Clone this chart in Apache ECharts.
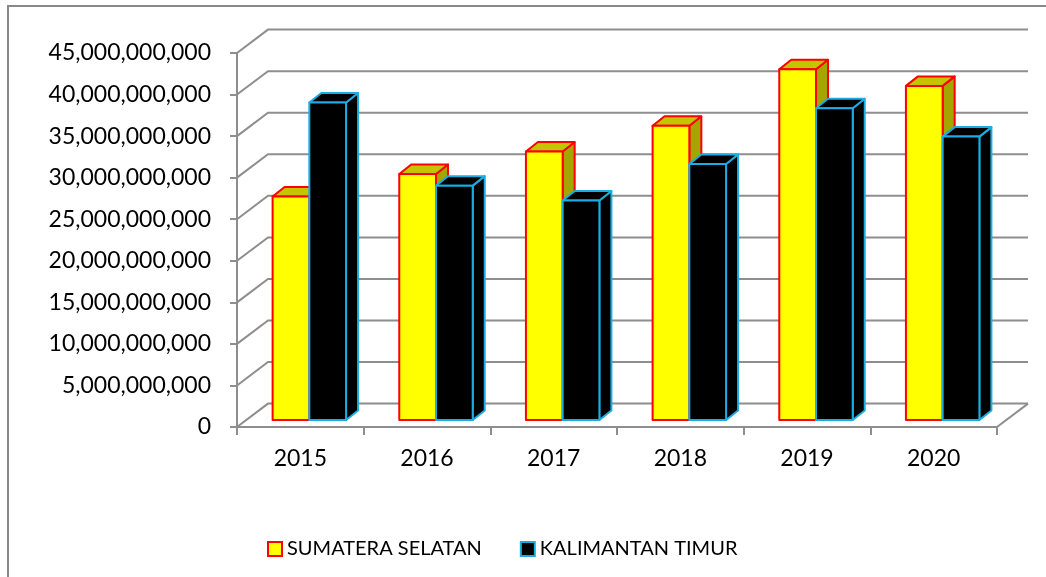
<!DOCTYPE html>
<html lang="en" style="height: 100%">
<head>
    <meta charset="UTF-8">
    <title>Sumatera Selatan vs Kalimantan Timur</title>
    <script src="https://cdn.jsdelivr.net/npm/echarts@6/dist/echarts.min.js"></script>
</head>
<body style="height: 100%; margin: 0">
    <div id="chart" style="width: 1046px; height: 577px"></div>
    <script>
        var years = ['2015', '2016', '2017', '2018', '2019', '2020'];
        var sumateraSelatan = [26.9e9, 29.6e9, 32.3e9, 35.4e9, 42.2e9, 40.2e9];
        var kalimantanTimur = [38.2e9, 28.2e9, 26.4e9, 30.8e9, 37.5e9, 34.1e9];
        var yTicks = [0, 5e9, 10e9, 15e9, 20e9, 25e9, 30e9, 35e9, 40e9, 45e9];

        // 3D look: depth of the walls and of the bars (pixels)
        var WALL_DX = 31, WALL_DY = -23.4;
        var BAR_DX = 9, BAR_DY = -7;
        var DEPTH_X = 12, DEPTH_Y = -9.5;
        var gridColor = '#8e8e8e';
        var font = 'Lato';

        var myChart = echarts.init(document.getElementById('chart'));

        function renderWall(params, api) {
            var cs = params.coordSys;
            var y = api.coord([0, api.value(1)])[1];
            var x0 = cs.x, x1 = cs.x + cs.width;
            var children = [{
                type: 'polyline',
                shape: { points: [[x0, y], [x0 + WALL_DX, y + WALL_DY], [x1 + WALL_DX, y + WALL_DY]] },
                style: { stroke: gridColor, lineWidth: 2, fill: null }
            }];
            if (params.dataIndex === 0) {
                children.push({
                    type: 'line',
                    shape: { x1: x1, y1: y, x2: x1 + WALL_DX, y2: y + WALL_DY },
                    style: { stroke: gridColor, lineWidth: 2 }
                });
            }
            return { type: 'group', children: children };
        }

        function barRenderer(side, front, top, right, border) {
            return function (params, api) {
                var cat = api.value(0);
                var topPt = api.coord([cat, api.value(1)]);
                var basePt = api.coord([cat, 0]);
                var w = api.size([1, 0])[0] * 0.29;
                var cx = topPt[0] + BAR_DX;
                var xa = side === 0 ? cx - w : cx;
                var xb = xa + w;
                var yt = topPt[1] + BAR_DY;
                var yb = basePt[1] + BAR_DY;
                var st = { stroke: border, lineWidth: 2, lineJoin: 'round' };
                return {
                    type: 'group',
                    children: [{
                        type: 'polygon',
                        shape: { points: [[xb, yt], [xb + DEPTH_X, yt + DEPTH_Y], [xb + DEPTH_X, yb + DEPTH_Y], [xb, yb]] },
                        style: Object.assign({ fill: right }, st)
                    }, {
                        type: 'polygon',
                        shape: { points: [[xa, yt], [xb, yt], [xb + DEPTH_X, yt + DEPTH_Y], [xa + DEPTH_X, yt + DEPTH_Y]] },
                        style: Object.assign({ fill: top }, st)
                    }, {
                        type: 'rect',
                        shape: { x: xa, y: yt, width: w, height: yb - yt },
                        style: Object.assign({ fill: front }, st)
                    }]
                };
            };
        }

        var option = {
            animation: false,
            backgroundColor: '#fff',
            graphic: [{
                type: 'rect',
                shape: { x: 8, y: 6, width: 1100, height: 700 },
                style: { fill: null, stroke: '#888', lineWidth: 2 }
            }],
            legend: {
                left: 262,
                top: 534,
                itemWidth: 14,
                itemHeight: 14,
                itemGap: 38,
                icon: 'rect',
                textStyle: { fontFamily: font, fontSize: 20, color: '#000' },
                data: [
                    { name: 'SUMATERA SELATAN', itemStyle: { color: '#FFFF00', borderColor: '#FF0000', borderWidth: 2 } },
                    { name: 'KALIMANTAN TIMUR', itemStyle: { color: '#000000', borderColor: '#1AACE3', borderWidth: 2 } }
                ]
            },
            grid: { left: 237, right: 49, top: 53, bottom: 150 },
            xAxis: {
                type: 'category',
                data: years,
                axisLine: { lineStyle: { color: gridColor, width: 2 } },
                axisTick: { show: true, length: 8, lineStyle: { color: gridColor, width: 2 } },
                axisLabel: { fontFamily: font, fontSize: 23, color: '#000', margin: 20 }
            },
            yAxis: {
                type: 'value',
                min: 0,
                max: 45e9,
                interval: 5e9,
                splitLine: { show: false },
                axisLine: { show: true, lineStyle: { color: gridColor, width: 2 } },
                axisTick: { show: true, length: 7, lineStyle: { color: gridColor, width: 2 } },
                axisLabel: {
                    fontFamily: font, fontSize: 23, color: '#000', margin: 26,
                    formatter: function (v) { return v.toLocaleString('en-US'); }
                }
            },
            series: [{
                type: 'custom',
                name: 'walls',
                z: 1,
                silent: true,
                renderItem: renderWall,
                encode: { x: 0, y: 1 },
                data: yTicks.map(function (v) { return [0, v]; })
            }, {
                type: 'custom',
                name: 'SUMATERA SELATAN',
                z: 2,
                itemStyle: { color: '#FFFF00', borderColor: '#FF0000' },
                renderItem: barRenderer(0, '#FFFF00', '#C4C400', '#A5A500', '#FF0000'),
                encode: { x: 0, y: 1 },
                data: sumateraSelatan.map(function (v, i) { return [i, v]; })
            }, {
                type: 'custom',
                name: 'KALIMANTAN TIMUR',
                z: 3,
                itemStyle: { color: '#000000', borderColor: '#1AACE3' },
                renderItem: barRenderer(1, '#000000', '#000000', '#000000', '#1AACE3'),
                encode: { x: 0, y: 1 },
                data: kalimantanTimur.map(function (v, i) { return [i, v]; })
            }]
        };

        myChart.setOption(option);
    </script>
</body>
</html>
